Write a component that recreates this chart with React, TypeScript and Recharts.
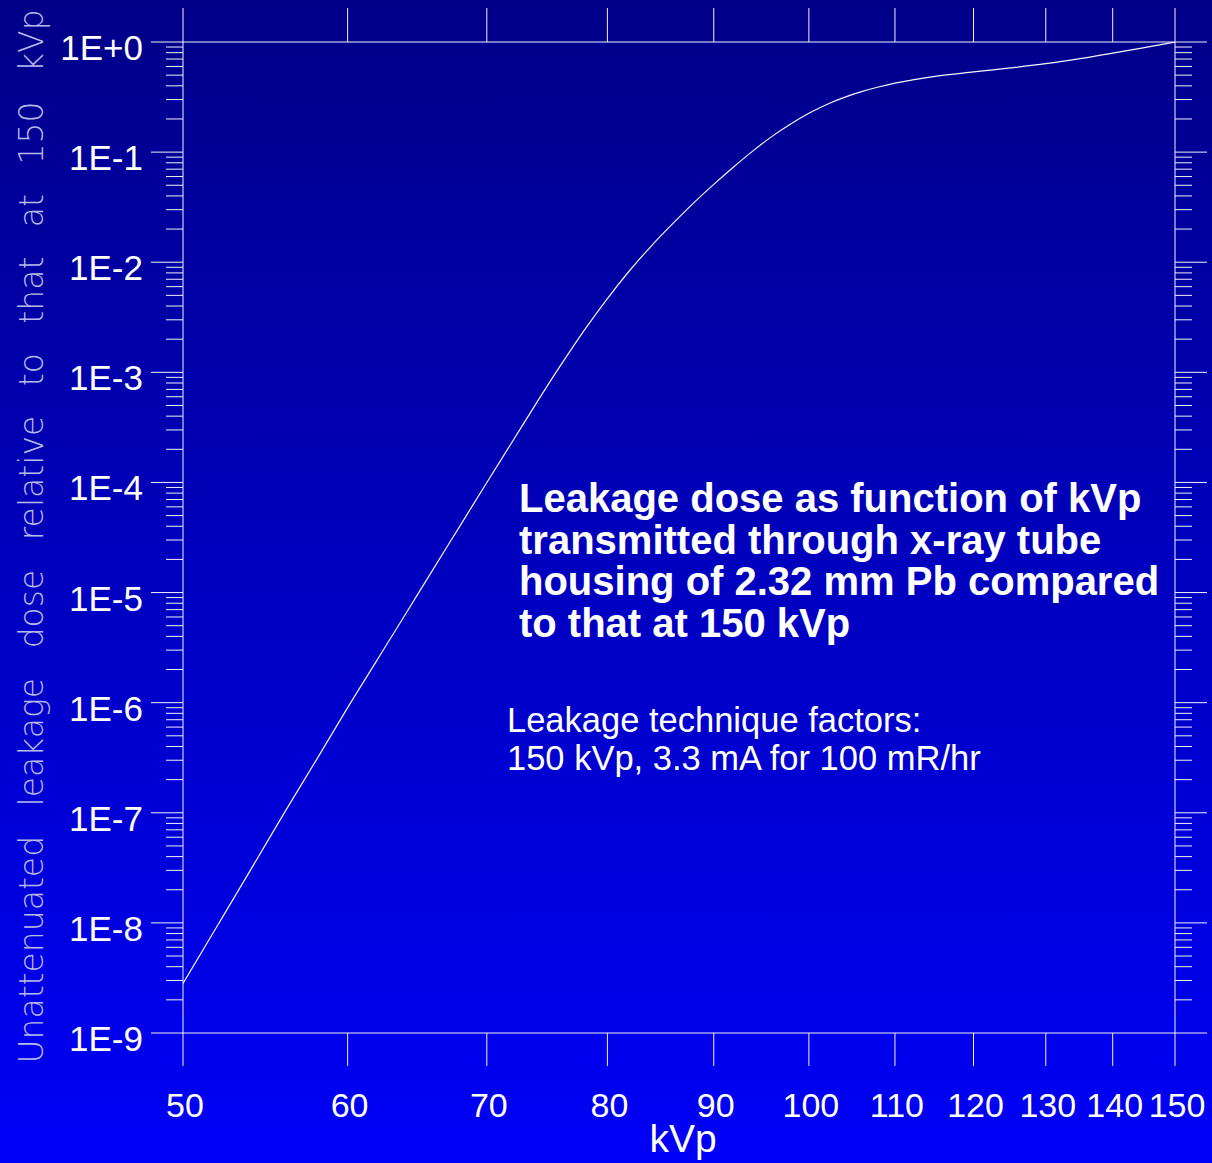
import { Label, Line, LineChart, XAxis, YAxis } from 'recharts';

// kVp values, with the dose relative to 150 kVp at each
const kVp = [50, 52, 54, 56, 58, 60, 62, 64, 66, 68, 70, 72, 74, 76, 78, 80, 82, 84, 86, 88, 90,
    92, 94, 96, 98, 100, 102, 104, 106, 108, 110, 115, 120, 125, 130, 135, 140, 145, 150];
const relativeDose = [2.82e-9, 9.77e-9, 3.24e-8, 1.035e-7, 3.09e-7, 9.02e-7, 2.45e-6, 6.46e-6,
    1.66e-5, 4.12e-5, 1.0e-4, 2.34e-4, 5.37e-4, 1.175e-3, 2.43e-3, 4.68e-3, 8.41e-3, 1.41e-2,
    2.24e-2, 3.44e-2, 5.09e-2, 7.33e-2, 0.1026, 0.139, 0.18, 0.2254, 0.271, 0.314, 0.354, 0.39,
    0.423, 0.488, 0.535, 0.581, 0.635, 0.705, 0.791, 0.889, 1.0];

const xTicks = [50, 60, 70, 80, 90, 100, 110, 120, 130, 140, 150];
const yDecades = [1e-9, 1e-8, 1e-7, 1e-6, 1e-5, 1e-4, 1e-3, 1e-2, 1e-1, 1];
const yDecadeLabels = ['1E-9', '1E-8', '1E-7', '1E-6', '1E-5', '1E-4', '1E-3', '1E-2', '1E-1', '1E+0'];
const minorSteps = [2, 3, 4, 5, 6, 7, 8, 9];

const titleLines = [
    'Leakage dose as function of kVp',
    'transmitted through x-ray tube',
    'housing of 2.32 mm Pb compared',
    'to that at 150 kVp',
];
const noteLines = ['Leakage technique factors:', '150 kVp, 3.3 mA for 100 mR/hr'];

const data = kVp.map((k, i) => ({ kVp: k, dose: relativeDose[i] }));

const yTicks = [
    ...yDecades,
    ...yDecades.slice(0, -1).flatMap(d => minorSteps.map(m => m * d)),
].sort((a, b) => a - b);

const WIDTH = 1212;
const HEIGHT = 1163;
const FONT = '"Liberation Sans", Arial, Helvetica, sans-serif';
const LINE = '#f0f0ff';

function decadeIndex(v: number) {
    return yDecades.findIndex(d => Math.abs(Math.log10(v) - Math.log10(d)) < 1e-6);
}

function YTick(props: any) {
    const { x, y, payload, side } = props;
    const idx = decadeIndex(payload.value);
    const len = idx >= 0 ? 32 : 17;
    const dir = side === 'left' ? -1 : 1;
    return <g>
        <line x1={x} x2={x + dir * len} y1={y} y2={y} stroke={LINE} strokeWidth={1} />
        {idx >= 0 && side === 'left' &&
            <text x={x - 40} y={y} dy={18} textAnchor="end" fill="#fff"
                fontSize={35} fontFamily={FONT}>{yDecadeLabels[idx]}</text>}
    </g>;
}

function XTick(props: any) {
    const { x, y, payload } = props;
    return <text x={x + 2} y={y} dy={51} textAnchor="middle" fill="#fff"
        fontSize={34} fontFamily={FONT}>{payload.value}</text>;
}

function YLabel(props: any) {
    const { viewBox } = props;
    const cx = viewBox.x + 43;
    const cy = viewBox.y + viewBox.height / 2 - 1;
    return <text x={cx} y={cy} transform={`rotate(-90, ${cx}, ${cy})`} textAnchor="middle"
        fill="#b8b8ec" fontSize={33} fontWeight={200} fontFamily='"DejaVu Sans", sans-serif'
        style={{ wordSpacing: 19 }}>
        Unattenuated leakage dose relative to that at 150 kVp
    </text>;
}

export default function App() {
    return <div style={{
        position: 'absolute', left: 0, top: 0, width: WIDTH, height: HEIGHT,
        background: 'linear-gradient(to bottom, #000088, #0000f8)', fontFamily: FONT,
    }}>
        <LineChart width={WIDTH} height={HEIGHT} data={data}
            margin={{ top: 0, right: 0, bottom: 0, left: 0 }}>
            <XAxis xAxisId="bottom" dataKey="kVp" type="number" scale="log" domain={[50, 150]}
                allowDataOverflow ticks={xTicks} interval={0} height={130}
                tickSize={33} tickMargin={0} axisLine={{ stroke: LINE }} tickLine={{ stroke: LINE }}
                tick={(p: any) => <XTick {...p} />}>
                <Label value="kVp" position="insideBottom" offset={11} dx={4}
                    fill="#fff" fontSize={39} fontFamily={FONT} />
            </XAxis>
            <XAxis xAxisId="top" orientation="top" dataKey="kVp" type="number" scale="log"
                domain={[50, 150]} allowDataOverflow ticks={xTicks} interval={0} height={42}
                tickSize={34} tickMargin={0} axisLine={{ stroke: LINE }} tickLine={{ stroke: LINE }}
                tick={() => <g />} />
            <YAxis yAxisId="left" type="number" scale="log" domain={[1e-9, 1]} allowDataOverflow
                ticks={yTicks} interval={0} width={183} tickSize={0} tickMargin={0}
                axisLine={{ stroke: LINE }} tickLine={false}
                tick={(p: any) => <YTick {...p} side="left" />}>
                <Label content={(p: any) => <YLabel {...p} />} />
            </YAxis>
            <YAxis yAxisId="right" orientation="right" type="number" scale="log" domain={[1e-9, 1]}
                allowDataOverflow ticks={yTicks} interval={0} width={37} tickSize={0} tickMargin={0}
                axisLine={{ stroke: LINE }} tickLine={false}
                tick={(p: any) => <YTick {...p} side="right" />} />
            <Line xAxisId="bottom" yAxisId="left" dataKey="dose" type="monotone" stroke="#f4f4ff"
                strokeWidth={1.2} dot={false} activeDot={false} isAnimationActive={false} />
        </LineChart>
        <div style={{
            position: 'absolute', left: 519, top: 478, color: '#fff', fontWeight: 700,
            fontSize: 40, lineHeight: '41.5px', whiteSpace: 'pre',
        }}>
            {titleLines.map(t => <div key={t}>{t}</div>)}
        </div>
        <div style={{
            position: 'absolute', left: 507, top: 701, color: '#fff',
            fontSize: 34.5, lineHeight: '38px', whiteSpace: 'pre',
        }}>
            {noteLines.map(t => <div key={t}>{t}</div>)}
        </div>
    </div>;
}
